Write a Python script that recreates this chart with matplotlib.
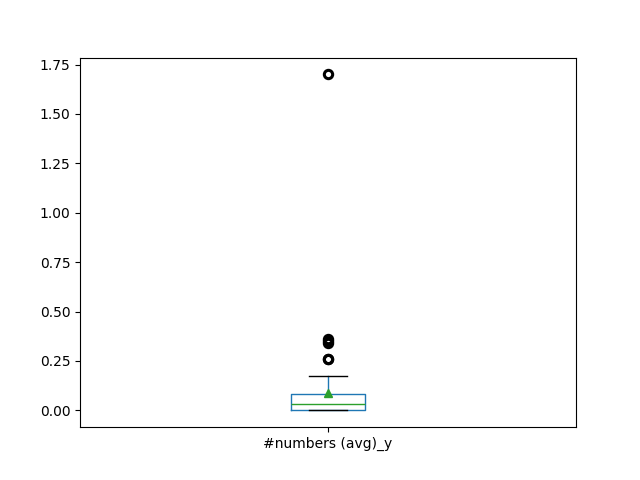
import pandas as pd
import matplotlib
matplotlib.use("Agg")
import matplotlib.pyplot as plt

column = "#numbers (avg)_y"

# values (quartiles ~0 / 0.03 / 0.08, whisker 0.173, mean ~0.087)
low_values = [0.0] * 16
lower_mid = [0.002, 0.005, 0.008, 0.01, 0.012, 0.015, 0.018, 0.02, 0.022,
             0.025, 0.027, 0.028, 0.03, 0.03]
upper_mid = [0.03, 0.033, 0.036, 0.04, 0.043, 0.047, 0.05, 0.054, 0.058,
             0.062, 0.066, 0.07, 0.074, 0.078, 0.08]
high_values = [0.082, 0.085, 0.09, 0.095, 0.1, 0.11, 0.125, 0.145, 0.173]
outliers = [0.26, 0.34, 0.35, 0.36, 1.70, 0.26]

values = low_values + lower_mid + upper_mid + high_values + outliers
df = pd.DataFrame({column: values})

fig, ax = plt.subplots(figsize=(6.4, 4.8), dpi=100)
df.plot.box(ax=ax, showmeans=True, widths=0.15,
            color=dict(boxes="#1f77b4", whiskers="#1f77b4",
                       medians="#2ca02c", caps="k"),
            flierprops=dict(markeredgewidth=2.2))

fig.savefig("out.png")
